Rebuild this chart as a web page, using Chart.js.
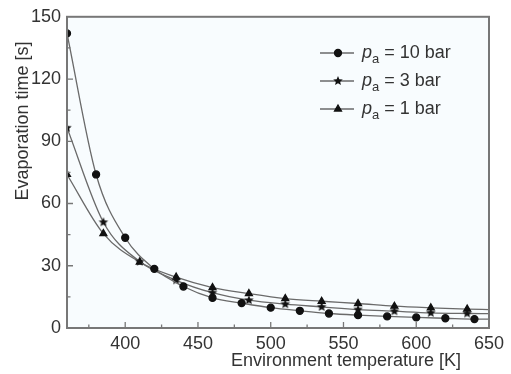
<!DOCTYPE html>
<html>
<head>
<meta charset="utf-8">
<script src="https://cdn.jsdelivr.net/npm/chart.js@4/dist/chart.umd.min.js"></script>
<style>
  html, body { margin: 0; padding: 0; background: #fff; }
  #wrap { width: 511px; height: 374px; }
</style>
</head>
<body>
<div id="wrap"><canvas id="evapChart"></canvas></div>
<script>
// temperatures [K] and evaporation times [s]
var temps10 = [360, 380, 400, 420, 440, 460, 480, 500, 520, 540, 560, 580, 600, 620, 640, 650];
var time10  = [142, 74, 43.5, 28.5, 20, 14.5, 12, 9.8, 8.3, 7, 6.2, 5.6, 5.1, 4.7, 4.3, 4.3];
var temps3  = [360, 385, 410, 435, 460, 485, 510, 535, 560, 585, 610, 635, 650];
var time3   = [96.5, 51, 32, 23, 17, 13.4, 11.5, 10.2, 8.9, 8.1, 7.3, 7, 6.9];
var temps1  = [360, 385, 410, 435, 460, 485, 510, 535, 560, 585, 610, 635, 650];
var time1   = [74, 45.5, 31.8, 24.5, 19.5, 16.6, 14.2, 12.9, 11.8, 10.5, 9.7, 9.1, 8.9];
var seriesLabels = ['10 bar', '3 bar', '1 bar'];
var xTicks = [400, 450, 500, 550, 600, 650];
var yTicks = [0, 30, 60, 90, 120, 150];

var FONT = '"Liberation Sans", Arial, sans-serif';
var LINE = '#6a6a6a';

function pts(xs, ys) {
  return xs.map(function(x, i) { return {x: x, y: ys[i]}; });
}

// small filled star marker
function makeStar(r) {
  var c = document.createElement('canvas');
  c.width = c.height = r * 2 + 2;
  var g = c.getContext('2d');
  g.translate(r + 1, r + 1);
  g.beginPath();
  for (var i = 0; i < 10; i++) {
    var rr = i % 2 ? r * 0.45 : r;
    var a = -Math.PI / 2 + i * Math.PI / 5;
    g.lineTo(rr * Math.cos(a), rr * Math.sin(a));
  }
  g.closePath();
  g.fillStyle = '#111';
  g.fill();
  return c;
}
var star = makeStar(5);

// last point of each series only extends the curve to the axis
function lastHidden(r) {
  return function(ctx) { return ctx.dataIndex === ctx.dataset.data.length - 1 ? 0 : r; };
}

function ds(label, data, style, r) {
  return {
    label: label,
    data: data,
    borderColor: LINE,
    borderWidth: 1.3,
    backgroundColor: '#111',
    pointBorderColor: '#111',
    pointBackgroundColor: '#111',
    pointStyle: style,
    pointRadius: lastHidden(r),
    cubicInterpolationMode: 'monotone',
    fill: false
  };
}

var frame = {
  id: 'frame',
  beforeDatasetsDraw: function(chart) {
    var a = chart.chartArea, c = chart.ctx;
    c.save();
    c.fillStyle = '#f8fcfe';
    c.fillRect(a.left, a.top, a.right - a.left, a.bottom - a.top);
    c.restore();
  },
  afterDraw: function(chart) {
    var a = chart.chartArea, c = chart.ctx;
    var xs = chart.scales.x, ys = chart.scales.y;
    c.save();
    c.strokeStyle = '#777';
    c.lineWidth = 2;
    c.strokeRect(a.left, a.top, a.right - a.left, a.bottom - a.top);
    c.lineWidth = 1.3;
    c.beginPath();
    for (var v = 375; v < 650; v += 25) {
      var px = xs.getPixelForValue(v);
      var len = (v % 50 === 0) ? 6 : 3.5;
      c.moveTo(px, a.bottom); c.lineTo(px, a.bottom - len);
    }
    for (var w = 15; w < 150; w += 15) {
      var py = ys.getPixelForValue(w);
      var l2 = (w % 30 === 0) ? 6 : 3.5;
      c.moveTo(a.left, py); c.lineTo(a.left + l2, py);
    }
    c.stroke();

    // axis titles
    c.fillStyle = '#333';
    c.font = '18px ' + FONT;
    c.textAlign = 'center';
    c.textBaseline = 'middle';
    c.fillText('Environment temperature [K]', 346, 361);
    c.translate(23, 121);
    c.rotate(-Math.PI / 2);
    c.fillText('Evaporation time [s]', 0, 0);
    c.restore();

    // legend
    c.save();
    var rows = [53, 81, 109];
    var styles = ['circle', star, 'triangle'];
    rows.forEach(function(y, i) {
      c.strokeStyle = LINE;
      c.lineWidth = 1.3;
      c.beginPath(); c.moveTo(320, y); c.lineTo(354, y); c.stroke();
      c.fillStyle = '#111';
      c.strokeStyle = '#111';
      Chart.helpers.drawPoint(c, {pointStyle: styles[i], radius: i === 0 ? 3.5 : 4, borderWidth: 1}, 338, y);
      c.fillStyle = '#333';
      c.textAlign = 'left';
      c.textBaseline = 'middle';
      c.font = 'italic 18px ' + FONT;
      c.fillText('p', 362, y);
      var pw = c.measureText('p').width;
      c.font = '13px ' + FONT;
      c.fillText('a', 362 + pw, y + 6);
      var aw = c.measureText('a').width;
      c.font = '18px ' + FONT;
      c.fillText(' = ' + seriesLabels[i], 362 + pw + aw, y);
    });
    c.restore();
  }
};

var ctx = document.getElementById('evapChart').getContext('2d');
var evapChart = new Chart(ctx, {
  type: 'line',
  data: {
    datasets: [
      ds(seriesLabels[0], pts(temps10, time10), 'circle', 3.5),
      ds(seriesLabels[1], pts(temps3, time3), star, 4),
      ds(seriesLabels[2], pts(temps1, time1), 'triangle', 4)
    ]
  },
  options: {
    responsive: true,
    maintainAspectRatio: false,
    animation: false,
    layout: { padding: { left: 0, top: 14, right: 22, bottom: 0 } },
    plugins: { legend: { display: false }, tooltip: { enabled: false } },
    scales: {
      x: {
        type: 'linear',
        min: 360, max: 650,
        grid: { display: false, drawTicks: false },
        border: { display: false },
        afterBuildTicks: function(s) { s.ticks = xTicks.map(function(v) { return {value: v}; }); },
        afterFit: function(s) { s.height = 46; },
        ticks: { color: '#333', font: { size: 18, family: FONT }, padding: 5, maxRotation: 0 }
      },
      y: {
        min: 0, max: 150,
        grid: { display: false, drawTicks: false },
        border: { display: false },
        afterBuildTicks: function(s) { s.ticks = yTicks.map(function(v) { return {value: v}; }); },
        afterFit: function(s) { s.width = 67; },
        ticks: { color: '#333', font: { size: 18, family: FONT }, padding: 6 }
      }
    }
  },
  plugins: [frame]
});
</script>
</body>
</html>
